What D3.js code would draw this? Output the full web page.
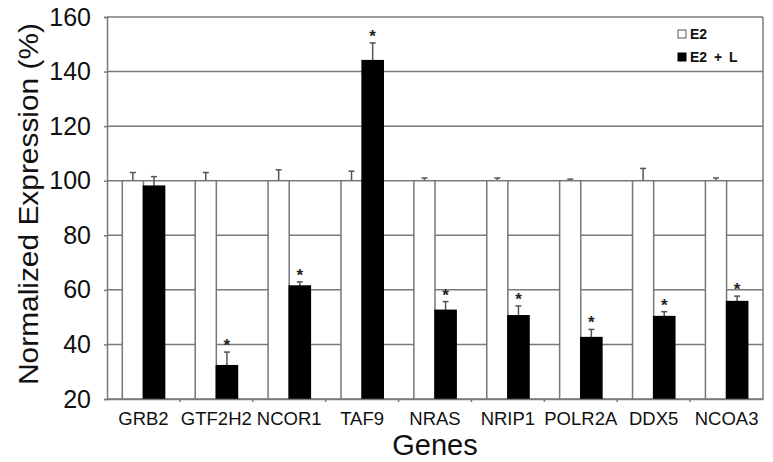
<!DOCTYPE html>
<html>
<head>
<meta charset="utf-8">
<script src="https://cdn.jsdelivr.net/npm/d3@7"></script>
<style>
  body { margin: 0; background: #fff; }
  text { font-family: "Liberation Sans", Arial, sans-serif; }
</style>
</head>
<body>
<script>
//Width and height
var w = 773;
var h = 462;
var margin = { top: 17, right: 10, bottom: 63, left: 107 };

var genes = ["GRB2", "GTF2H2", "NCOR1", "TAF9", "NRAS", "NRIP1", "POLR2A", "DDX5", "NCOA3"];
var series = ["E2", "E2 + L"];
var e2Values = [100, 100, 100, 100, 100, 100, 100, 100, 100];
var e2Errors = [3, 3, 4, 3.5, 1, 1, 0.6, 4.5, 1];
var e2lValues = [98, 32.2, 61.4, 144, 52.5, 50.5, 42.5, 50.2, 55.7];
var e2lErrors = [3.5, 5, 1.5, 6.5, 3.2, 3.6, 3, 1.8, 2];
var significant = [false, true, true, true, true, true, true, true, true];
var yTicks = [20, 40, 60, 80, 100, 120, 140, 160];

var x0 = d3
  .scaleBand()
  .domain(genes)
  .range([margin.left, w - margin.right]);

var x1 = d3
  .scaleBand()
  .domain(series)
  .range([x0.bandwidth() * 0.21, x0.bandwidth() * 0.79]);

var yScale = d3
  .scaleLinear()
  .domain([20, 160])
  .range([h - margin.bottom, margin.top]);

var colors = { "E2": "#fff", "E2 + L": "#000" };

//Create SVG element
var svg = d3.select("body").append("svg").attr("width", w).attr("height", h);

//Gridlines
svg
  .selectAll("line.grid")
  .data(yTicks)
  .enter()
  .append("line")
  .attr("class", "grid")
  .attr("x1", margin.left)
  .attr("x2", w - margin.right)
  .attr("y1", function (d) { return yScale(d); })
  .attr("y2", function (d) { return yScale(d); })
  .attr("stroke", "#7a7a7a")
  .attr("stroke-width", 1.5);

//Right border
svg
  .append("line")
  .attr("x1", w - margin.right)
  .attr("x2", w - margin.right)
  .attr("y1", margin.top)
  .attr("y2", h - margin.bottom)
  .attr("stroke", "#7a7a7a")
  .attr("stroke-width", 1.5);

//Build rows for bars
var rows = [];
genes.forEach(function (g, i) {
  rows.push({ gene: g, s: "E2", v: e2Values[i], e: e2Errors[i], sig: false });
  rows.push({ gene: g, s: "E2 + L", v: e2lValues[i], e: e2lErrors[i], sig: significant[i] });
});

var groups = svg
  .selectAll("g.bar")
  .data(rows)
  .enter()
  .append("g")
  .attr("class", "bar")
  .attr("transform", function (d) {
    return "translate(" + (x0(d.gene) + x1(d.s)) + ",0)";
  });

//Error bars (upper half only)
groups
  .append("line")
  .attr("x1", x1.bandwidth() / 2)
  .attr("x2", x1.bandwidth() / 2)
  .attr("y1", function (d) { return yScale(d.v); })
  .attr("y2", function (d) { return yScale(d.v + d.e); })
  .attr("stroke", "#555")
  .attr("stroke-width", 1.5);

groups
  .append("line")
  .attr("x1", x1.bandwidth() / 2 - 3)
  .attr("x2", x1.bandwidth() / 2 + 3)
  .attr("y1", function (d) { return yScale(d.v + d.e); })
  .attr("y2", function (d) { return yScale(d.v + d.e); })
  .attr("stroke", "#555")
  .attr("stroke-width", 1.5);

//Bars
groups
  .append("rect")
  .attr("x", 0)
  .attr("y", function (d) { return yScale(d.v); })
  .attr("width", x1.bandwidth())
  .attr("height", function (d) { return yScale(20) - yScale(d.v); })
  .attr("fill", function (d) { return colors[d.s]; })
  .attr("stroke", function (d) { return d.s === "E2" ? "#777" : "#000"; })
  .attr("stroke-width", 1.5);

//Significance stars
groups
  .filter(function (d) { return d.sig; })
  .append("text")
  .text("*")
  .attr("text-anchor", "middle")
  .attr("x", x1.bandwidth() / 2)
  .attr("y", function (d) { return yScale(d.v + d.e) - 1; })
  .attr("font-size", "17px")
  .attr("font-weight", "bold")
  .attr("fill", "#222");

//Y axis
var yAxis = d3.axisLeft(yScale).tickValues(yTicks).tickSize(3).tickPadding(13);
var gy = svg
  .append("g")
  .attr("transform", "translate(" + margin.left + ",0)")
  .call(yAxis);
gy.select(".domain").attr("stroke", "#7a7a7a").attr("stroke-width", 1.5);
gy.selectAll(".tick line").attr("stroke", "#7a7a7a").attr("stroke-width", 1.5);
gy.selectAll(".tick text")
  .attr("font-size", "25px")
  .attr("font-family", "Liberation Sans, Arial, sans-serif")
  .attr("fill", "#111");

//X axis
var xAxis = d3.axisBottom(x0).tickSize(0).tickPadding(13);
var gx = svg
  .append("g")
  .attr("transform", "translate(0," + (h - margin.bottom) + ")")
  .call(xAxis);
gx.select(".domain").attr("stroke", "#7a7a7a").attr("stroke-width", 1.5);
gx.selectAll(".tick text")
  .attr("font-size", "18.5px")
  .attr("font-family", "Liberation Sans, Arial, sans-serif")
  .attr("fill", "#111");

//Small ticks between categories
svg
  .selectAll("line.sep")
  .data(genes.slice(1))
  .enter()
  .append("line")
  .attr("class", "sep")
  .attr("x1", function (d) { return x0(d); })
  .attr("x2", function (d) { return x0(d); })
  .attr("y1", h - margin.bottom)
  .attr("y2", h - margin.bottom + 3)
  .attr("stroke", "#7a7a7a")
  .attr("stroke-width", 1.5);

//Axis titles
svg
  .append("text")
  .text("Genes")
  .attr("text-anchor", "middle")
  .attr("x", 435)
  .attr("y", 455)
  .attr("font-size", "29px")
  .attr("fill", "#111");

svg
  .append("text")
  .text("Normalized Expression (%)")
  .attr("text-anchor", "middle")
  .attr("transform", "translate(38,204) rotate(-90)")
  .attr("font-size", "28px")
  .attr("textLength", 362)
  .attr("lengthAdjust", "spacingAndGlyphs")
  .attr("fill", "#111");

//Legend
var legend = svg
  .selectAll("g.legend")
  .data(series)
  .enter()
  .append("g")
  .attr("class", "legend")
  .attr("transform", function (d, i) {
    return "translate(678," + (34 + i * 23) + ")";
  });

legend
  .append("rect")
  .attr("y", -4)
  .attr("width", 8)
  .attr("height", 8)
  .attr("fill", function (d) { return colors[d]; })
  .attr("stroke", function (d) { return d === "E2" ? "#555" : "#000"; })
  .attr("stroke-width", 1);

legend
  .append("text")
  .text(function (d) { return d; })
  .attr("x", 12)
  .attr("y", 5)
  .attr("font-size", "14px")
  .attr("font-weight", "bold")
  .attr("word-spacing", "3px")
  .attr("fill", "#111");
</script>
</body>
</html>
